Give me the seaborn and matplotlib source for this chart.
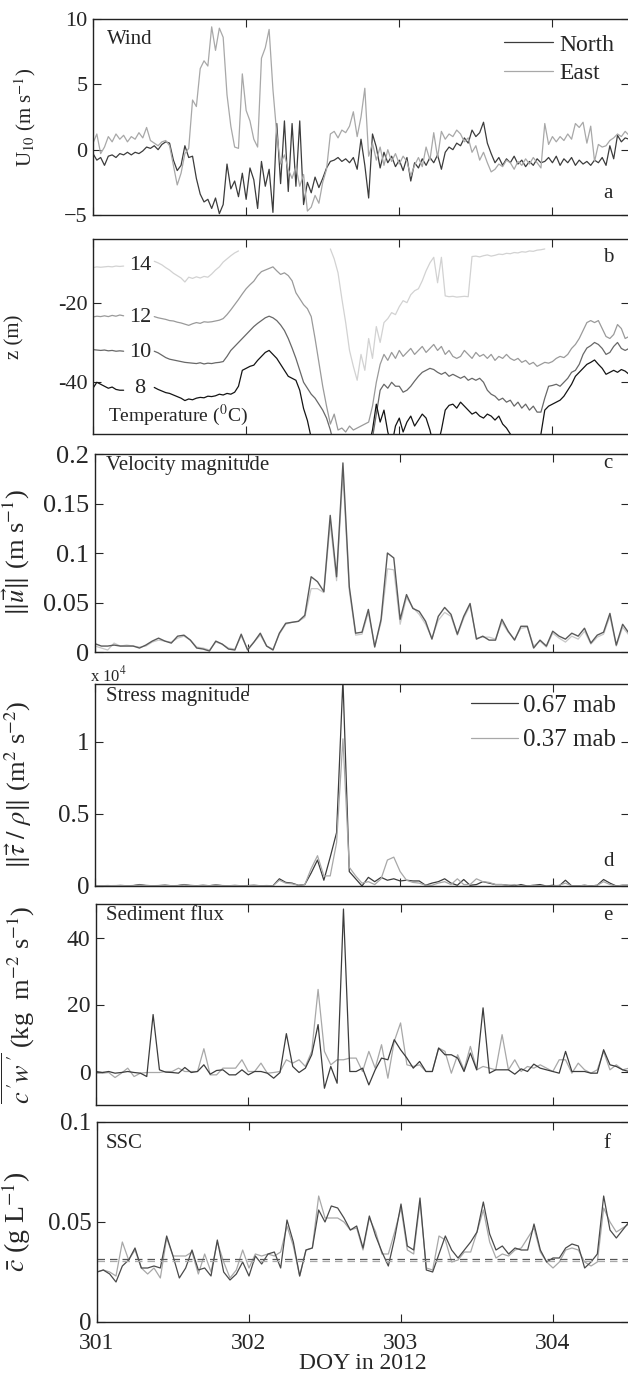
import numpy as np
import pandas as pd
import seaborn as sns
import matplotlib
matplotlib.use("Agg")
import matplotlib.pyplot as plt

nan = np.nan

# ---- data ----
# time axes (day of year)
t_wind = 301 + np.arange(141) * 0.025
t_hour = 301 + np.arange(85) / 24

# a) wind, m/s
wind_north = [-0.3, -0.8, -0.6, -1.2, -0.5, -0.4, -0.6, -0.3, -0.4, -0.2,
              -0.4, -0.2, -0.3, -0.1, 0.2, 0.1, 0.3, 0.0, 0.4, 0.6,
              0.5, -0.8, -1.6, -1.2, 0.3, -0.6, -0.5, -2.2, -3.4, -4.0,
              -3.8, -4.5, -3.7, -4.9, -4.2, -1.1, -3.0, -2.4, -3.6, -1.8,
              -3.8, -1.4, -2.3, -4.5, -0.9, -2.8, -1.5, -4.8, 2.0, -2.6,
              2.2, -3.2, 2.0, -2.8, 2.2, -4.2, -2.5, -3.3, -2.1, -2.9,
              -2.2, -1.4, -0.9, -0.8, -0.6, -0.9, -0.7, -1.0, -0.6, -1.5,
              0.8, -1.2, -3.7, 1.2, 0.2, -1.4, -0.2, -1.0, -0.5, -1.3,
              -0.8, -1.6, -0.6, -2.4, -1.0, -1.4, -0.7, -1.2, -0.6, -1.0,
              -0.4, -1.5, -0.2, 0.2, 0.0, 0.5, 0.3, 0.9, 0.5, 1.5,
              1.0, 1.3, 2.1, 0.5, -0.3, -1.0, -0.6, -1.2, -0.7, -1.0,
              -0.5, -1.1, -0.8, -1.3, -0.9, -1.2, -0.7, -1.0, -0.9, -0.6,
              -1.0, -0.5, -1.2, -0.7, -1.0, -0.6, -1.2, -0.8, -1.1, -0.9,
              -1.2, -0.8, -1.0, -0.6, -1.2, 0.3, -0.7, 1.1, 0.6, 0.9,
              0.8]
wind_east = [0.5, 1.2, -0.3, 0.2, 1.0, 0.6, 1.2, 0.8, 1.1, 0.6,
             1.0, 0.8, 1.3, 0.9, 1.7, 0.7, 0.5, 0.3, 0.6, 0.7,
             0.3, -1.2, -2.7, -1.8, -0.3, 0.1, 3.8, 3.3, 6.2, 6.8,
             6.4, 9.4, 7.6, 9.3, 8.6, 4.2, 1.8, 0.2, 0.1, 5.8,
             3.0, 2.2, 0.8, 0.2, 7.0, 7.8, 9.2, 4.6, 1.2, -1.1,
             -0.4, -1.5, -2.2, -1.3, -2.8, -1.9, -4.7, -4.4, -3.5, -4.1,
             -2.5, -1.5, 1.2, 1.4, 0.9, 1.5, 1.3, 1.8, 2.9, 1.0,
             2.5, 4.7, -0.5, 0.5, -0.8, 0.2, -1.2, 0.0, -0.9, -0.3,
             -1.1, -0.5, -0.9, -2.0, -1.2, -0.6, -1.3, 0.2, -0.8, 1.3,
             -0.6, 1.4, 0.8, 1.2, 1.0, 1.5, 1.2, 0.6, 0.9, -0.2,
             0.3, -0.8, -0.2, -1.0, -1.7, -1.5, -1.1, -1.3, -0.8, -1.0,
             -1.5, -0.9, -1.2, -0.7, -1.1, -0.6, -1.0, -1.4, 2.0, 0.4,
             1.0, 0.6, 1.0, 0.7, 1.2, 0.8, 2.0, 1.7, 2.1, 0.5,
             1.8, -0.9, 0.4, 0.2, 0.3, 0.7, 0.9, 1.2, 1.0, 1.4,
             1.1]

# b) isotherm depths, m (nan = label gap / out of range)
iso_14 = ([-11.2, -11.0, -11.1, -11.0, -10.9, -11.0, -10.8, -10.9, -10.8] + [nan] * 7 +
          [-9.6, -10.0, -10.5, -11.2, -11.8, -12.6, -13.2, -13.8, -14.8, -13.6, -13.9, -13.5,
           -13.8, -13.4, -13.6, -12.8, -11.8, -11.0, -9.8, -9.0, -8.2, -7.5, -7.0] + [nan] * 23 +
          [-6.5, -9.0, -12.5, -19.0, -25.0, -32.0, -36.0, -39.5, -33.0, -37.0, -29.0, -34.0, -26.0, -30.0,
           -25.0, -24.0, -22.5, -23.0, -21.0, -19.5, -20.0, -18.0, -17.0, -16.5,
           -14.5, -12.0, -10.0, -8.6, -15.0, -8.6, -18.3, -18.5, -18.4, -18.6, -18.5, -18.4, -18.5,
           -8.4, -8.3, -8.5, -8.2, -8.0, -8.3, -8.1, -7.8, -7.9, -7.6, -7.7, -7.4, -7.5, -7.2,
           -7.3, -7.0, -7.1, -6.8, -6.7, -6.5] + [nan] * 22)
iso_12 = ([-23.6, -23.4, -23.5, -23.3, -23.5, -23.2, -23.4, -23.1, -23.3] + [nan] * 7 +
          [-23.5, -23.8, -24.0, -24.2, -24.5, -24.6, -24.9, -25.1, -25.4, -25.7, -25.3, -25.0,
           -25.2, -24.8, -24.9, -24.8, -24.6, -24.4,
           -24.0, -23.0, -21.8, -20.5, -19.2, -17.8, -16.5, -15.5, -14.6, -13.2,
           -12.2, -11.8, -11.4, -11.0, -12.0, -12.9, -12.5, -13.2, -14.5, -17.5, -19.0, -20.5,
           -21.5, -23.5, -29.0, -35.0, -41.0, -46.0, -50.5, -48.0, -52.0,
           -51.5, -52.5, -51.0, -52.0, -51.5, -51.0, -50.5, -50.0,
           -46.0, -40.0, -35.5, -33.0, -34.5, -32.5, -34.0, -32.0, -33.5, -32.5, -31.5, -33.0,
           -32.0, -31.0, -32.5, -31.5, -30.5, -32.0, -31.0, -33.0, -32.0, -33.5, -34.0, -33.5,
           -32.0, -33.0, -34.0, -32.5, -33.5, -33.0, -34.0, -33.0, -34.5, -33.5, -34.0, -33.0,
           -34.0, -34.5, -34.0, -35.0, -34.5, -35.5, -35.0, -36.0, -35.5, -35.0, -35.2, -34.8,
           -34.0, -33.5, -33.8, -33.0, -31.5,
           -30.5, -29.0, -27.0, -25.0, -24.5, -25.0, -24.5, -26.5, -28.5, -29.0, -28.0, -25.5,
           -26.5, -29.0, -28.5])
iso_10 = ([-31.8, -31.9, -32.0, -31.9, -32.1, -32.0, -32.2, -32.1, -32.2] + [nan] * 7 +
          [-32.2, -32.6, -33.2, -33.8, -34.2, -34.4, -34.6, -34.8, -35.0, -35.1, -35.2, -35.3,
           -35.1, -35.4, -35.2, -35.3, -35.1, -35.0, -34.8,
           -33.5, -32.0, -31.0, -30.0, -29.0, -28.0, -27.0, -26.0, -25.2, -24.5, -23.8, -23.4,
           -23.8, -24.5, -25.6, -27.0, -29.0, -31.4, -34.0, -37.0, -40.0, -41.5, -43.0, -44.0,
           -45.5, -47.0, -49.0, -52.0] + [-56.0] * 10 +
          [-54.0, -48.0, -42.0, -40.5, -41.5, -40.0, -41.0,
           -41.0, -42.5, -42.0, -41.0, -39.7, -38.5, -37.5, -37.0, -36.5, -36.8,
           -37.5, -38.0, -37.5, -38.5, -38.0, -38.5, -39.0, -38.5, -39.5, -39.0,
           -39.5, -39.0, -40.0, -42.0, -43.0, -43.5, -44.5, -44.0, -45.0, -44.5,
           -46.0, -45.0, -46.5, -45.5, -47.0, -46.0, -47.5, -47.5,
           -44.0, -41.0, -40.8, -40.5, -41.0, -40.0, -39.0, -37.5, -37.0, -35.5,
           -33.0, -31.4, -30.8, -30.0, -30.5, -31.5, -33.0, -32.5, -31.0, -30.0,
           -31.5, -32.0, -31.5])
iso_8 = ([-41.5, -40.0, -40.5, -41.0, -41.5, -41.2, -41.8, -42.0, -42.0] + [nan] * 7 +
         [-41.3, -41.8, -42.2, -42.6, -42.8, -43.2, -43.6, -44.0, -44.6, -44.2, -44.4, -44.0,
          -43.8, -43.9, -43.5, -43.6, -43.4, -43.0, -43.2, -42.8,
          -43.0, -42.5, -41.0, -37.0, -36.5, -36.0, -35.7, -34.5, -33.5, -32.5, -32.0, -33.0,
          -34.0, -35.5, -37.0, -38.5, -39.0, -39.5, -42.0, -46.6, -49.6, -54.0] + [-56.0] * 15 +
         [-52.0, -45.5, -50.0, -47.0, -52.5, -56.0, -51.0, -49.0, -52.5, -50.0, -48.5, -51.0,
          -49.5, -48.0, -49.0, -52.0, -56.0, -56.0,
          -52.0, -47.0, -45.8, -45.5, -46.5, -45.0, -46.0, -47.0, -48.0, -47.5, -48.5, -49.0,
          -48.0, -48.5, -49.5, -48.5, -50.5, -51.5, -53.0] + [-56.0] * 7 +
         [-53.0, -47.0, -46.0, -45.5, -45.0, -44.5, -43.5, -42.0, -40.5, -38.5, -37.5, -36.5,
          -35.5, -35.0, -34.4, -35.5, -36.5, -38.0, -37.5, -37.0, -37.5, -36.8, -37.2, -38.0])

# c) velocity magnitude, m/s (dark = 0.67 mab, light = 0.37 mab)
vel_067 = [0.0084, 0.006, 0.006, 0.007, 0.006, 0.006, 0.006, 0.004, 0.007, 0.011,
           0.014, 0.011, 0.009, 0.016, 0.017, 0.012, 0.004, 0.003, 0.001, 0.011,
           0.008, 0.003, 0.002, 0.018, 0.002, 0.010, 0.019, 0.006, 0.002, 0.019,
           0.029, 0.030, 0.031, 0.037, 0.076, 0.071, 0.061, 0.138, 0.076, 0.191,
           0.066, 0.019, 0.020, 0.043, 0.005, 0.033, 0.100, 0.095, 0.033, 0.058,
           0.044, 0.041, 0.031, 0.013, 0.036, 0.045, 0.038, 0.018, 0.036, 0.049,
           0.013, 0.016, 0.012, 0.012, 0.033, 0.021, 0.012, 0.026, 0.026, 0.004,
           0.012, 0.006, 0.021, 0.016, 0.013, 0.019, 0.016, 0.024, 0.009, 0.017,
           0.020, 0.039, 0.007, 0.028, 0.019]
vel_037 = [0.006, 0.004, 0.002, 0.009, 0.006, 0.007, 0.006, 0.005, 0.006, 0.010,
           0.012, 0.011, 0.010, 0.014, 0.016, 0.012, 0.005, 0.004, 0.002, 0.010,
           0.008, 0.004, 0.003, 0.016, 0.003, 0.010, 0.017, 0.006, 0.003, 0.018,
           0.028, 0.030, 0.031, 0.035, 0.064, 0.064, 0.060, 0.130, 0.072, 0.180,
           0.062, 0.017, 0.018, 0.040, 0.006, 0.030, 0.084, 0.083, 0.028, 0.055,
           0.045, 0.038, 0.028, 0.014, 0.032, 0.040, 0.036, 0.017, 0.034, 0.047,
           0.014, 0.015, 0.015, 0.013, 0.030, 0.020, 0.013, 0.024, 0.025, 0.006,
           0.011, 0.005, 0.019, 0.014, 0.010, 0.016, 0.013, 0.021, 0.008, 0.015,
           0.018, 0.036, 0.006, 0.025, 0.017]

# d) stress magnitude, x 1e4 m2/s2
stress_067 = [0.003, 0.002, 0.003, 0.002, 0.004, 0.002, 0.003, 0.010, 0.004, 0.002,
              0.003, 0.006, 0.002, 0.003, 0.010, 0.004, 0.002, 0.005, 0.002, 0.008,
              0.003, 0.002, 0.004, 0.002, 0.003, 0.005, 0.002, 0.003, 0.002, 0.050,
              0.025, 0.020, 0.005, 0.010, 0.090, 0.180, 0.040, 0.200, 0.370, 1.430,
              0.100, 0.050, 0.000, 0.060, 0.030, 0.060, 0.040, 0.050, 0.035, 0.040,
              0.035, 0.035, 0.005, 0.020, 0.030, 0.050, 0.020, 0.005, 0.045, 0.005,
              0.010, 0.030, 0.020, 0.010, 0.010, 0.005, 0.000, 0.010, 0.000, 0.005,
              0.010, 0.000, 0.005, 0.000, 0.040, 0.000, 0.000, 0.005, 0.000, 0.005,
              0.045, 0.020, 0.000, 0.005, 0.005]
stress_037 = [0.002, 0.002, 0.002, 0.003, 0.003, 0.002, 0.002, 0.006, 0.003, 0.002,
              0.002, 0.004, 0.002, 0.002, 0.007, 0.003, 0.002, 0.004, 0.002, 0.006,
              0.002, 0.002, 0.003, 0.002, 0.002, 0.004, 0.002, 0.002, 0.002, 0.040,
              0.020, 0.015, 0.005, 0.010, 0.120, 0.210, 0.070, 0.070, 0.300, 1.020,
              0.130, 0.070, 0.020, 0.030, 0.010, 0.050, 0.180, 0.200, 0.100, 0.040,
              0.025, 0.020, 0.005, 0.005, 0.020, 0.030, 0.010, 0.050, 0.010, 0.010,
              0.050, 0.030, 0.025, 0.010, 0.010, 0.005, 0.010, 0.000, 0.000, 0.005,
              0.000, 0.000, 0.000, 0.005, 0.020, 0.000, 0.000, 0.005, 0.000, 0.005,
              0.030, 0.010, 0.000, 0.005, 0.005]

# e) sediment flux, kg m-2 s-1
flux_067 = [0, -0.3, 0, -0.5, -0.3, 0, -0.3, -0.5, -1.5, 17,
            0.5, -0.2, -0.3, -0.5, 1.2, -0.3, 0, 2.0, -0.8, 0.3,
            0.5, -1.0, -1.0, 0.5, -1.0, 0, 0, -0.5, -2.0, -0.3,
            11.3, 1.5, -0.3, 1.0, 5, 14, -5, 1.5, -3.5, 48.5,
            0, 0, 1, -4, 0.5, 4, 3.5, 9.5, 6.5, 4,
            1, 3, 0, 0, 7, 5, 5, 4, 0, 5.5,
            0.5, 19, -0.5, 0.5, 0.5, 0.5, -0.8, 0.8, 0, 2.2,
            1, 0.5, 0, -0.5, 6, 0, 0, 0, -0.5, -0.5,
            6.5, 2.0, 1.5, 0.5, 0]
flux_037 = [-0.5, -0.5, -0.3, -1.8, -0.5, 1.0, -1.5, -0.5, -0.3, -0.3,
            -0.3, 0, 0, 1.0, 0, 0, 0, 6.8, -1.0, -1.0,
            1.0, 1.0, 1.0, 3.5, 0, 0, 2.5, -0.5, -0.3, 0,
            3.5, 2.5, 3.5, 1.5, 6, 24.5, 6, 2, 3.5, 3.5,
            4, 4, 0, 6, 1, 8, -2, 9, 14.5, 2,
            1.5, 2, 0, 0, 7, 6, -0.5, 5, 0.5, 7.5,
            0.5, 1.5, 1, 0.5, 11, 0.5, 3.5, 0, 1.5, 1,
            2, 1, 0, 3.5, 3.5, -0.5, 2.5, 0.5, -0.5, 0.5,
            6, 0.5, 2, 0.5, 1]

# f) SSC, g/L
ssc_067 = [0.025, 0.026, 0.024, 0.020, 0.028, 0.031, 0.037, 0.027, 0.027, 0.028,
           0.027, 0.043, 0.033, 0.022, 0.027, 0.036, 0.026, 0.027, 0.023, 0.041,
           0.025, 0.021, 0.024, 0.030, 0.023, 0.033, 0.029, 0.034, 0.035, 0.027,
           0.051, 0.040, 0.023, 0.036, 0.037, 0.056, 0.050, 0.058, 0.057, 0.052,
           0.046, 0.048, 0.037, 0.053, 0.043, 0.035, 0.028, 0.042, 0.059, 0.038,
           0.036, 0.062, 0.026, 0.025, 0.034, 0.043, 0.036, 0.032, 0.036, 0.040,
           0.045, 0.060, 0.044, 0.036, 0.038, 0.034, 0.037, 0.036, 0.036, 0.049,
           0.036, 0.030, 0.032, 0.032, 0.037, 0.039, 0.038, 0.027, 0.030, 0.034,
           0.063, 0.046, 0.042, 0.046, 0.050]
ssc_037 = [0.025, 0.026, 0.025, 0.023, 0.040, 0.031, 0.036, 0.027, 0.024, 0.027,
           0.022, 0.042, 0.033, 0.033, 0.033, 0.035, 0.024, 0.034, 0.025, 0.040,
           0.030, 0.022, 0.026, 0.036, 0.027, 0.034, 0.033, 0.034, 0.033, 0.035,
           0.048, 0.038, 0.023, 0.036, 0.037, 0.063, 0.052, 0.052, 0.052, 0.050,
           0.046, 0.047, 0.036, 0.052, 0.045, 0.034, 0.034, 0.045, 0.057, 0.036,
           0.034, 0.060, 0.027, 0.026, 0.043, 0.041, 0.030, 0.031, 0.035, 0.035,
           0.045, 0.056, 0.040, 0.032, 0.034, 0.033, 0.036, 0.037, 0.042, 0.047,
           0.035, 0.030, 0.027, 0.030, 0.036, 0.037, 0.036, 0.030, 0.028, 0.030,
           0.057, 0.050, 0.045, 0.047, 0.049]
ssc_ref_067 = 0.0315
ssc_ref_037 = 0.0303

# ---- style ----
sns.set_style("ticks")
plt.rcParams["font.family"] = ["Liberation Serif", "DejaVu Serif"]
plt.rcParams["mathtext.fontset"] = "stix"
plt.rcParams["axes.linewidth"] = 1.0
plt.rcParams["axes.edgecolor"] = "#222222"

W, H = 628, 1375
fig = plt.figure(figsize=(W / 100, H / 100), dpi=100)

# panel frames in pixels: left, top, bottom (right edge just past the crop)
frames = [(93, 19, 215), (93, 239, 434), (95, 454, 652),
          (95, 684, 886), (96, 904, 1105), (97, 1122, 1322)]
RIGHT = 629
axes = []
for l, t, b in frames:
    axes.append(fig.add_axes([l / W, 1 - b / H, (RIGHT - l) / W, (b - t) / H]))


def frac(i, x, y):
    l, t, b = frames[i]
    return (x - l) / (RIGHT - l), (b - y) / (b - t)


def draw(ax, t, y, color, lw=0.9, label=None):
    df = pd.DataFrame({"t": t, "y": y})
    df["seg"] = df["y"].isna().cumsum()
    df = df.dropna()
    sns.lineplot(data=df, x="t", y="y", units="seg", estimator=None, sort=False,
                 color=color, lw=lw, ax=ax, label=label)


def tag(i, x, y, s, size=15, **kw):
    fx, fy = frac(i, x, y)
    axes[i].text(fx, fy, s, transform=axes[i].transAxes, fontsize=size,
                 va="center", **kw)


dark, light = "#3c3c3c", "#a8a8a8"

# a) wind
ax = axes[0]
draw(ax, t_wind, wind_north, dark, label="North")
draw(ax, t_wind, wind_east, light, label="East")
ax.set_ylim(-5, 10)
ax.set_yticks([-5, 0, 5, 10])
ax.legend(loc="upper right", bbox_to_anchor=frac(0, 614, 34), frameon=False,
          fontsize=17, handlelength=2.1, handletextpad=0.25, labelspacing=0.3,
          borderaxespad=0, borderpad=0)
tag(0, 107, 40, "Wind")
tag(0, 603, 193, "a")

# b) temperature
ax = axes[1]
draw(ax, t_wind, iso_14, "#d2d2d2")
draw(ax, t_wind, iso_12, "#9a9a9a")
draw(ax, t_wind, iso_10, "#686868")
draw(ax, t_wind, iso_8, "#141414")
ax.set_ylim(-53, -4)
ax.set_yticks([-40, -20])
ax.set_yticklabels(["-40", "-20"])
for s, yy in [("14", 265), ("12", 317), ("10", 352), ("8", 388)]:
    tag(1, 140, yy, s, size=16, ha="center")
tag(1, 108, 415, r"Temperature ($^0$C)", size=14)
tag(1, 603, 258, "b")

# c) velocity
ax = axes[2]
draw(ax, t_hour, vel_037, "#c8c8c8")
draw(ax, t_hour, vel_067, "#5a5a5a", lw=1.0)
ax.set_ylim(0, 0.2)
ax.set_yticks([0, 0.05, 0.1, 0.15, 0.2])
ax.set_yticklabels(["0", "0.05", "0.1", "0.15", "0.2"])
tag(2, 106, 465, "Velocity magnitude")
tag(2, 603, 463, "c")

# d) stress
ax = axes[3]
draw(ax, t_hour, stress_067, dark, label="0.67 mab")
draw(ax, t_hour, stress_037, light, label="0.37 mab")
ax.set_ylim(0, 1.4)
ax.set_yticks([0, 0.5, 1])
ax.set_yticklabels(["0", "0.5", "1"])
ax.legend(loc="upper right", bbox_to_anchor=frac(3, 616, 694), frameon=False,
          fontsize=18, handlelength=1.9, handletextpad=0.2, labelspacing=0.5,
          borderaxespad=0, borderpad=0)
tag(3, 106, 697, "Stress magnitude")
tag(3, 603, 862, "d")
fx, fy = frac(3, 90, 675)
ax.text(fx, fy, r"x 10$^4$", transform=ax.transAxes, fontsize=12, va="center")

# e) sediment flux
ax = axes[4]
draw(ax, t_hour, flux_037, light)
draw(ax, t_hour, flux_067, dark)
ax.set_ylim(-10, 50)
ax.set_yticks([0, 20, 40])
tag(4, 106, 915, "Sediment flux")
tag(4, 603, 915, "e")

# f) SSC
ax = axes[5]
draw(ax, t_hour, ssc_037, light)
draw(ax, t_hour, ssc_067, "#4a4a4a")
ax.axhline(ssc_ref_067, color="#555555", lw=0.9, ls=(0, (6, 4)))
ax.axhline(ssc_ref_037, color="#aaaaaa", lw=0.9, ls=(0, (6, 4)))
ax.set_ylim(0, 0.1)
ax.set_yticks([0, 0.05, 0.1])
ax.set_yticklabels(["0", "0.05", "0.1"])
tag(5, 106, 1143, "SSC")
tag(5, 603, 1143, "f")

ylabels = [r"U$_{10}$ (m s$^{-1}$)", "z (m)",
           r"$\Vert\vec{u}\Vert$ (m s$^{-1}$)",
           r"$\Vert\vec{\tau}\ /\ \rho\Vert$ (m$^2$ s$^{-2}$)",
           r"$\overline{c\,'w\,'}$ (kg  m$^{-2}$ s$^{-1}$)",
           r"$\bar{c}$ (g L$^{-1}$)"]
ylab_x = [38, 24, 32, 34, 36, 33]
ylab_size = [15, 15, 19, 19, 19, 20]
tick_size = [16, 16, 19, 18, 17, 18]

for i, ax in enumerate(axes):
    ax.set_xlim(301, 304.5)
    ax.set_xticks([301, 302, 303, 304])
    ax.tick_params(which="both", direction="in", top=True, right=True,
                   length=6, width=0.8, labelsize=tick_size[i], pad=4)
    ax.set_ylabel(ylabels[i], fontsize=ylab_size[i])
    ax.yaxis.set_label_coords(frac(i, ylab_x[i], 0)[0], 0.5)
    if i < 5:
        ax.set_xlabel("")
        ax.set_xticklabels([])
    else:
        ax.set_xticklabels(["301", "302", "303", "304"])
        ax.tick_params(axis="x", labelsize=17, pad=8)
        ax.set_xlabel("DOY in 2012", fontsize=17, labelpad=-1)
    ax.set_facecolor("white")

fig.savefig("out.png", dpi=100)
